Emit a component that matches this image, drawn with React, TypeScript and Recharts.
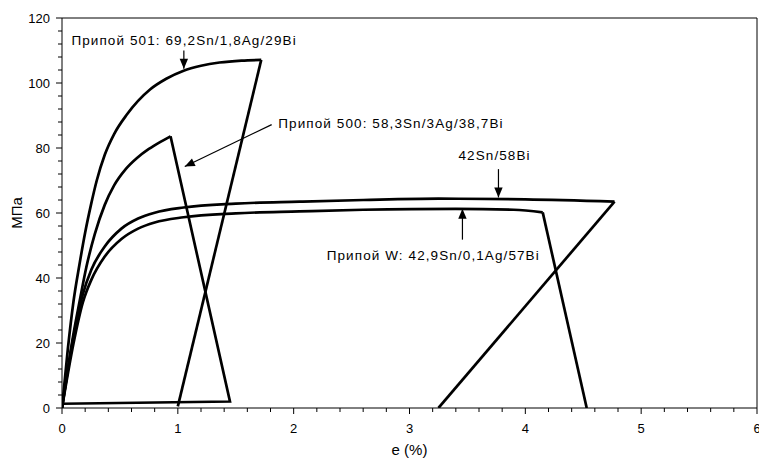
import React from "react";
import { LineChart, Line, XAxis, YAxis, ReferenceLine, ReferenceDot } from "recharts";

// axis ticks (minor + major)
const xTicks = [0, 0.2, 0.4, 0.6, 0.8, 1, 1.2, 1.4, 1.6, 1.8, 2, 2.2, 2.4, 2.6, 2.8, 3, 3.2, 3.4, 3.6, 3.8, 4, 4.2, 4.4, 4.6, 4.8, 5, 5.2, 5.4, 5.6, 5.8, 6];
const yTicks = [0, 4, 8, 12, 16, 20, 24, 28, 32, 36, 40, 44, 48, 52, 56, 60, 64, 68, 72, 76, 80, 84, 88, 92, 96, 100, 104, 108, 112, 116, 120];

// Припой 501: loading curve and unloading line
const s501Load = [
  { x: 0, y: 0 }, { x: 0.05, y: 18 }, { x: 0.1, y: 33 }, { x: 0.15, y: 44 }, { x: 0.2, y: 54 },
  { x: 0.25, y: 62.5 }, { x: 0.3, y: 70 }, { x: 0.37, y: 78 }, { x: 0.45, y: 84.3 },
  { x: 0.56, y: 90.3 }, { x: 0.76, y: 98 }, { x: 0.9, y: 101.3 }, { x: 1.05, y: 103.8 },
  { x: 1.2, y: 105.3 }, { x: 1.36, y: 106.3 }, { x: 1.55, y: 106.9 }, { x: 1.72, y: 107.1 },
];
const s501Unload = [{ x: 1.72, y: 107.1 }, { x: 1.0, y: 0.5 }];

// Припой 500
const s500Load = [
  { x: 0, y: 0 }, { x: 0.05, y: 12 }, { x: 0.1, y: 23 }, { x: 0.153, y: 33 }, { x: 0.21, y: 43.3 },
  { x: 0.283, y: 53.5 }, { x: 0.369, y: 62.5 }, { x: 0.45, y: 68.5 }, { x: 0.55, y: 73.5 },
  { x: 0.65, y: 77 }, { x: 0.75, y: 79.7 }, { x: 0.85, y: 81.9 }, { x: 0.937, y: 83.6 },
];
const s500Unload = [{ x: 0.937, y: 83.6 }, { x: 1.45, y: 2 }, { x: 0, y: 1.3 }];

// 42Sn/58Bi
const sn42Load = [
  { x: 0, y: 0 }, { x: 0.1, y: 22 }, { x: 0.18, y: 35 }, { x: 0.254, y: 42.6 }, { x: 0.369, y: 49.7 },
  { x: 0.513, y: 55.2 }, { x: 0.657, y: 58.3 }, { x: 0.8, y: 60.1 }, { x: 1.05, y: 61.7 },
  { x: 1.5, y: 62.9 }, { x: 2.05, y: 63.5 }, { x: 2.6, y: 64 }, { x: 3.25, y: 64.4 },
  { x: 4.0, y: 64.2 }, { x: 4.77, y: 63.5 },
];
const sn42Unload = [{ x: 4.77, y: 63.5 }, { x: 3.25, y: 0 }];

// Припой W
const sWLoad = [
  { x: 0, y: 0 }, { x: 0.1, y: 20 }, { x: 0.18, y: 32.5 }, { x: 0.254, y: 39.5 }, { x: 0.369, y: 46.6 },
  { x: 0.513, y: 52 }, { x: 0.657, y: 55.2 }, { x: 0.8, y: 57.1 }, { x: 1.05, y: 58.7 },
  { x: 1.5, y: 59.9 }, { x: 2.05, y: 60.5 }, { x: 2.6, y: 61 }, { x: 3.4, y: 61.3 },
  { x: 3.9, y: 61 }, { x: 4.15, y: 60.2 },
];
const sWUnload = [{ x: 4.15, y: 60.2 }, { x: 4.53, y: 0 }];

// annotations: label anchor, arrow start, arrow tip
const labels = [
  { text: "Припой 501: 69,2Sn/1,8Ag/29Bi", x: 0.081, y: 111.8 },
  { text: "Припой 500: 58,3Sn/3Ag/38,7Bi", x: 1.867, y: 86.2 },
  { text: "42Sn/58Bi", x: 3.423, y: 76.2 },
  { text: "Припой W: 42,9Sn/0,1Ag/57Bi", x: 2.285, y: 45.6 },
];
const arrows = [
  { from: { x: 1.052, y: 110 }, to: { x: 1.052, y: 104.4 }, angle: 90 },
  { from: { x: 1.81, y: 87.2 }, to: { x: 1.06, y: 74.3 }, angle: 154.3 },
  { from: { x: 3.768, y: 73.5 }, to: { x: 3.768, y: 64.8 }, angle: 90 },
  { from: { x: 3.457, y: 51.8 }, to: { x: 3.457, y: 61.3 }, angle: -90 },
];

const FONT = "'Liberation Sans', Arial, sans-serif";

const isMajor = (v: number, step: number) => Math.abs(v / step - Math.round(v / step)) < 1e-6;

function XTick(props: any) {
  const { x, y, payload } = props;
  const major = isMajor(payload.value, 1);
  return (
    <g>
      <line x1={x} y1={y} x2={x} y2={y + (major ? 6 : 4)} stroke="#000" strokeWidth={1} />
      {major && (
        <text x={x} y={y + 25} textAnchor="middle" fontSize={13} fontFamily={FONT} fill="#000">
          {payload.value}
        </text>
      )}
    </g>
  );
}

function YTick(props: any) {
  const { x, y, payload } = props;
  const major = isMajor(payload.value, 20);
  return (
    <g>
      <line x1={x} y1={y} x2={x - (major ? 6 : 4)} y2={y} stroke="#000" strokeWidth={1} />
      {major && (
        <text x={x - 12} y={y + 4.5} textAnchor="end" fontSize={13} fontFamily={FONT} fill="#000">
          {payload.value}
        </text>
      )}
    </g>
  );
}

function LabelText(text: string) {
  return (props: any) => (
    <text x={props.cx} y={props.cy} fontSize={13.5} letterSpacing={1.1} fontFamily={FONT} fill="#000">
      {text}
    </text>
  );
}

function ArrowHead(angle: number) {
  return (props: any) => (
    <polygon
      points="0,0 -10,-4.2 -10,4.2"
      transform={`translate(${props.cx},${props.cy}) rotate(${angle})`}
      fill="#000"
    />
  );
}

export default function App() {
  const line = (data: { x: number; y: number }[], key: string, curve: boolean) => (
    <Line
      key={key}
      data={data}
      dataKey="y"
      type={curve ? "monotone" : "linear"}
      stroke="#000"
      strokeWidth={2.7}
      strokeLinejoin="miter"
      dot={false}
      activeDot={false}
      isAnimationActive={false}
    />
  );
  return (
    <div style={{ position: "absolute", left: 0, top: 0, background: "#fff" }}>
      <LineChart width={759} height={461} margin={{ top: 18, right: 2, left: 0, bottom: 0 }}>
        <XAxis
          dataKey="x"
          type="number"
          domain={[0, 6]}
          ticks={xTicks}
          interval={0}
          tickSize={0}
          tickMargin={0}
          tick={<XTick />}
          axisLine={{ stroke: "#000" }}
          height={53}
          allowDataOverflow
          label={({ viewBox }: any) => (
            <text x={viewBox.x + viewBox.width / 2} y={455} textAnchor="middle" fontSize={15} fontFamily={FONT} fill="#000">
              e (%)
            </text>
          )}
        />
        <YAxis
          type="number"
          domain={[0, 120]}
          ticks={yTicks}
          interval={0}
          tickSize={0}
          tickMargin={0}
          tick={<YTick />}
          axisLine={{ stroke: "#000" }}
          width={62}
          allowDataOverflow
          label={({ viewBox }: any) => (
            <text
              x={22}
              y={viewBox.y + viewBox.height / 2}
              transform={`rotate(-90, 22, ${viewBox.y + viewBox.height / 2})`}
              textAnchor="middle"
              fontSize={15}
              fontFamily={FONT}
              fill="#000"
            >
              МПа
            </text>
          )}
        />
        <ReferenceLine y={120} stroke="#000" strokeWidth={1} />
        <ReferenceLine x={6} stroke="#000" strokeWidth={1} />
        {line(s501Load, "501l", true)}
        {line(s501Unload, "501u", false)}
        {line(s500Load, "500l", true)}
        {line(s500Unload, "500u", false)}
        {line(sn42Load, "42l", true)}
        {line(sn42Unload, "42u", false)}
        {line(sWLoad, "Wl", true)}
        {line(sWUnload, "Wu", false)}
        {arrows.map((a, i) => (
          <ReferenceLine key={`al${i}`} segment={[a.from, a.to]} stroke="#000" strokeWidth={1.2} />
        ))}
        {arrows.map((a, i) => (
          <ReferenceDot key={`ah${i}`} x={a.to.x} y={a.to.y} r={0} shape={ArrowHead(a.angle)} />
        ))}
        {labels.map((l, i) => (
          <ReferenceDot key={`lb${i}`} x={l.x} y={l.y} r={0} shape={LabelText(l.text)} />
        ))}
      </LineChart>
    </div>
  );
}
